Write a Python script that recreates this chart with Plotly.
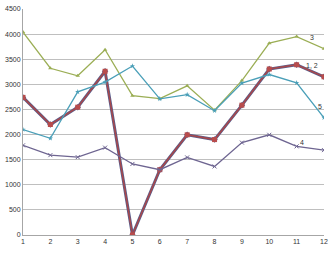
import plotly.graph_objects as go

months = [1, 2, 3, 4, 5, 6, 7, 8, 9, 10, 11, 12]
s1 = [2740, 2200, 2545, 3260, 0, 1300, 1995, 1900, 2585, 3305, 3390, 3150]
s2 = [2740, 2200, 2545, 3260, 0, 1300, 1995, 1900, 2585, 3305, 3390, 3150]
s3 = [4040, 3320, 3170, 3690, 2775, 2715, 2970, 2485, 3075, 3820, 3950, 3710]
s4 = [1785, 1590, 1550, 1740, 1415, 1300, 1545, 1365, 1840, 1995, 1765, 1690]
s5 = [2100, 1925, 2850, 3045, 3365, 2710, 2795, 2475, 3025, 3195, 3030, 2335]
y_ticks = [0, 500, 1000, 1500, 2000, 2500, 3000, 3500, 4000, 4500]

fig = go.Figure()
fig.add_trace(go.Scatter(x=months, y=s1, mode="lines+markers", name="1",
                         line=dict(color="#5A5E8C", width=3),
                         marker=dict(symbol="diamond", size=5, color="#5A5E8C")))
fig.add_trace(go.Scatter(x=months, y=s2, mode="lines+markers", name="2",
                         line=dict(color="#A8474A", width=1.5),
                         marker=dict(symbol="square", size=5, color="#B84C4C")))
fig.add_trace(go.Scatter(x=months, y=s3, mode="lines+markers", name="3",
                         line=dict(color="#9BAE55", width=1.3),
                         marker=dict(symbol="triangle-up", size=4, color="#9BAE55")))
fig.add_trace(go.Scatter(x=months, y=s4, mode="lines+markers", name="4",
                         line=dict(color="#6E6591", width=1.3),
                         marker=dict(symbol="x-thin", size=4, color="#6E6591",
                                     line=dict(color="#6E6591", width=1))))
fig.add_trace(go.Scatter(x=months, y=s5, mode="lines+markers", name="5",
                         line=dict(color="#4A9FB8", width=1.3),
                         marker=dict(symbol="star", size=4, color="#4A9FB8")))

labels = [("3", 11.57, 3930), ("1, 2", 11.55, 3370),
          ("5", 11.86, 2560), ("4", 11.18, 1850)]
for txt, xx, yy in labels:
    fig.add_annotation(x=xx, y=yy, text=txt, showarrow=False,
                       font=dict(size=7, color="#333", family="Liberation Sans"))

fig.update_layout(
    width=333, height=256,
    margin=dict(l=20, r=5, t=6, b=21),
    paper_bgcolor="white", plot_bgcolor="white",
    showlegend=False,
    font=dict(family="Liberation Sans", size=7, color="#333"),
)
fig.update_xaxes(range=[1, 12], tickvals=months, showgrid=False,
                 showline=True, linecolor="#A6A6A6", linewidth=1,
                 ticks="", ticklen=0, zeroline=False,
                 tickfont=dict(size=7))
fig.update_yaxes(range=[0, 4500], tickvals=y_ticks, showgrid=True,
                 gridcolor="#BFBFBF", gridwidth=1,
                 showline=True, linecolor="#A6A6A6", linewidth=1,
                 ticks="", zeroline=False, tickfont=dict(size=7))

fig.write_html("out.html")
